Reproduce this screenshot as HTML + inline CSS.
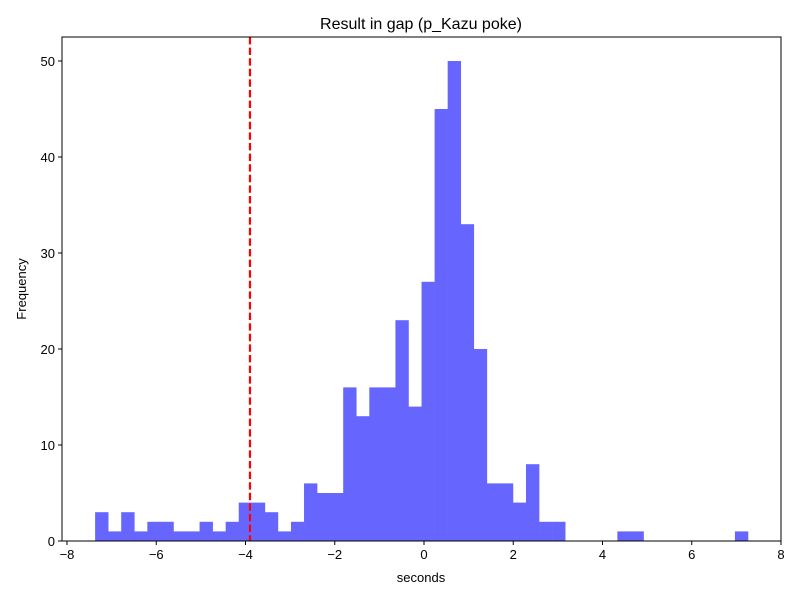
<!DOCTYPE html>
<html><head><meta charset="utf-8"><style>body{margin:0;background:#fff}svg{display:block;font-family:"Liberation Sans","DejaVu Sans",sans-serif}</style></head>
<body>
<svg id="chart" width="800" height="600">
<rect width="800" height="600" fill="#fff"/>
<text x="421" y="29" font-size="16" text-anchor="middle">Result in gap (p_Kazu poke)</text>
<g id="bars"></g>
<g id="axes"></g>
<text x="421" y="582" font-size="13" text-anchor="middle">seconds</text>
<text x="26" y="289" font-size="13" text-anchor="middle" transform="rotate(-90 26 289)">Frequency</text>
</svg>
<script>
const binStart = -7.37;
const binWidth = 0.2926;
const counts = [3,1,3,1,2,2,1,1,2,1,2,4,4,3,1,2,6,5,5,16,13,16,16,23,14,27,45,50,33,20,6,6,4,8,2,2,0,0,0,0,1,1,0,0,0,0,0,0,0,1];
const xTicks = [-8,-6,-4,-2,0,2,4,6,8];
const yTicks = [0,10,20,30,40,50];
const markerValue = -3.9;
const L=62,R=781,T=37,B=541;
const xs=v=>424+v*44.625;
const ys=v=>B-v*9.6;
const NS='http://www.w3.org/2000/svg';
const bars=document.getElementById('bars'),axes=document.getElementById('axes');
function mk(tag,a,p){const e=document.createElementNS(NS,tag);for(const k in a)e.setAttribute(k,a[k]);p.appendChild(e);return e;}
counts.forEach((c,i)=>{if(!c)return;const x0=xs(binStart+i*binWidth),x1=xs(binStart+(i+1)*binWidth);
const r=mk('rect',{x:x0,y:ys(c),width:x1-x0+0.3,height:B-ys(c),fill:'#6666ff'},bars);

});
const ml=mk('line',{x1:xs(markerValue),x2:xs(markerValue),y1:T,y2:B,stroke:'#ff0000','stroke-width':2.2,'stroke-dasharray':'7.4,3.2'},axes);


const fr=mk('rect',{x:L,y:T,width:R-L,height:B-T,fill:'none',stroke:'#000','stroke-width':1},axes);


xTicks.forEach(t=>{const x=xs(t);mk('line',{x1:x,x2:x,y1:B,y2:B+4,stroke:'#000'},axes);
const tx=mk('text',{x:x,y:B+18,'font-size':13,'text-anchor':'middle'},axes);tx.textContent=(t<0?'\u2212'+(-t):t);

});
yTicks.forEach(t=>{const y=ys(t);mk('line',{x1:L-4,x2:L,y1:y,y2:y,stroke:'#000'},axes);
const tx=mk('text',{x:L-7,y:y+5,'font-size':13,'text-anchor':'end'},axes);tx.textContent=t;

});
</script>
</body></html>
